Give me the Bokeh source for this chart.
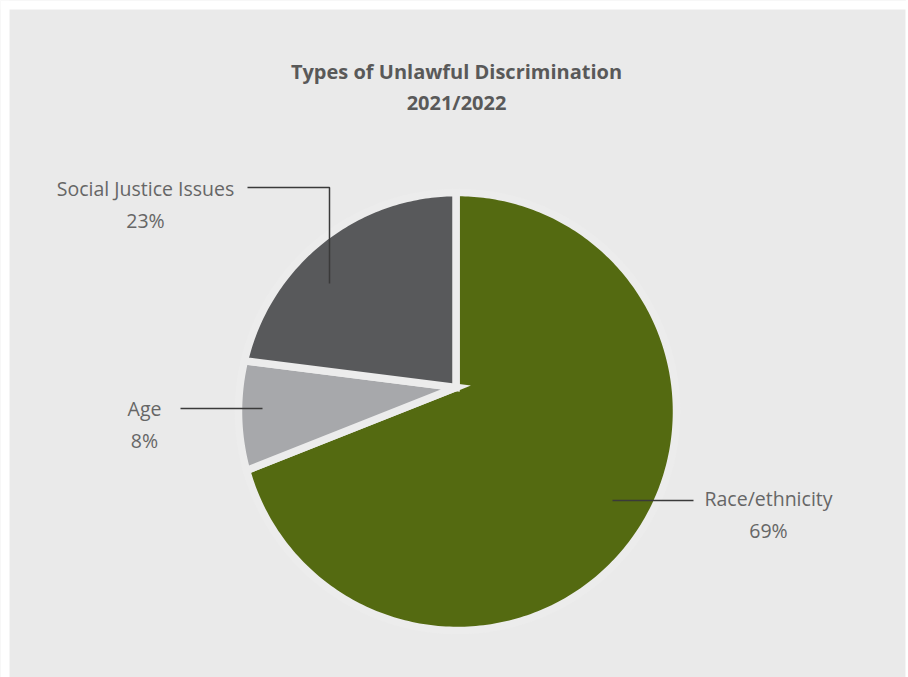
import numpy as np
from bokeh.plotting import figure
from bokeh.models import Range1d, ColumnDataSource
from bokeh.core.properties import value
from bokeh.embed import file_html
from bokeh.resources import INLINE

# ---- data ----
categories = ["Race/ethnicity", "Age", "Social Justice Issues"]
percents = [69, 8, 23]
colors = ["#546a11", "#a7a8ab", "#58595b"]
pct_labels = ["69%", "8%", "23%"]
title_lines = ["Types of Unlawful Discrimination", "2021/2022"]

W, H = 906, 677
BG = "#eaeaea"
GAP = "#ececec"

p = figure(width=W, height=H, output_backend="svg", toolbar_location=None,
           x_range=Range1d(0, W), y_range=Range1d(H, 0),
           min_border=0,
           background_fill_color=BG, border_fill_color=BG,
           outline_line_color=None)
p.axis.visible = False
p.grid.visible = False

# white page margins around the grey panel
p.quad(left=[0, 0, 905], right=[9, W, W], top=[0, 0, 0], bottom=[H, 9, H],
       fill_color="white", line_color=None)

# geometry (page pixel coords, y downward)
vx, vy = 455.5, 387.0      # slice apex
cx, cy = 457.0, 411.0      # outer circle centre
R = 219.0

def ray_hit(theta):
    d = np.array([np.sin(theta), -np.cos(theta)])
    w = np.array([vx - cx, vy - cy])
    b = w @ d
    c = w @ w - R * R
    t = -b + np.sqrt(b * b - c)
    return vx + t * d[0], vy + t * d[1]

total = float(sum(percents))
start = 0.0
xs, ys = [], []
for v in percents:
    end = start + v / total * 2 * np.pi
    n = max(4, int(v * 4))
    th = np.linspace(start, end, n)
    pts = [ray_hit(t) for t in th]
    xs.append([vx] + [q[0] for q in pts])
    ys.append([vy] + [q[1] for q in pts])
    start = end

src = ColumnDataSource(dict(xs=xs, ys=ys, color=colors, cat=categories))
p.patches("xs", "ys", source=src, fill_color="color", line_color=GAP,
          line_width=7.5, line_join="miter")

# leader lines
LC = "#3a3a3a"
p.line([247, 329, 329], [187, 187, 283], line_color=LC, line_width=1.5)
p.line([180, 262], [408, 408], line_color=LC, line_width=1.5)
p.line([612, 693], [500, 500], line_color=LC, line_width=1.5)

# labels
lab_x = [768, 144, 145]
lab_y = [498, 408, 188]
p.text(x=lab_x, y=lab_y, text=categories, text_align="center",
       text_baseline="middle", text_font=value("Open Sans"),
       text_font_size="19.5px", text_color="#666666")
p.text(x=lab_x, y=[y + 32 for y in lab_y], text=pct_labels, text_align="center",
       text_baseline="middle", text_font=value("Open Sans"),
       text_font_size="19.5px", text_color="#666666")

# title
p.text(x=[456, 456], y=[71, 102], text=title_lines, text_align="center",
       text_baseline="middle", text_font=value("Open Sans"),
       text_font_size="20px", text_font_style="bold", text_color="#595959")

open("out.html", "w").write(file_html(p, INLINE))
